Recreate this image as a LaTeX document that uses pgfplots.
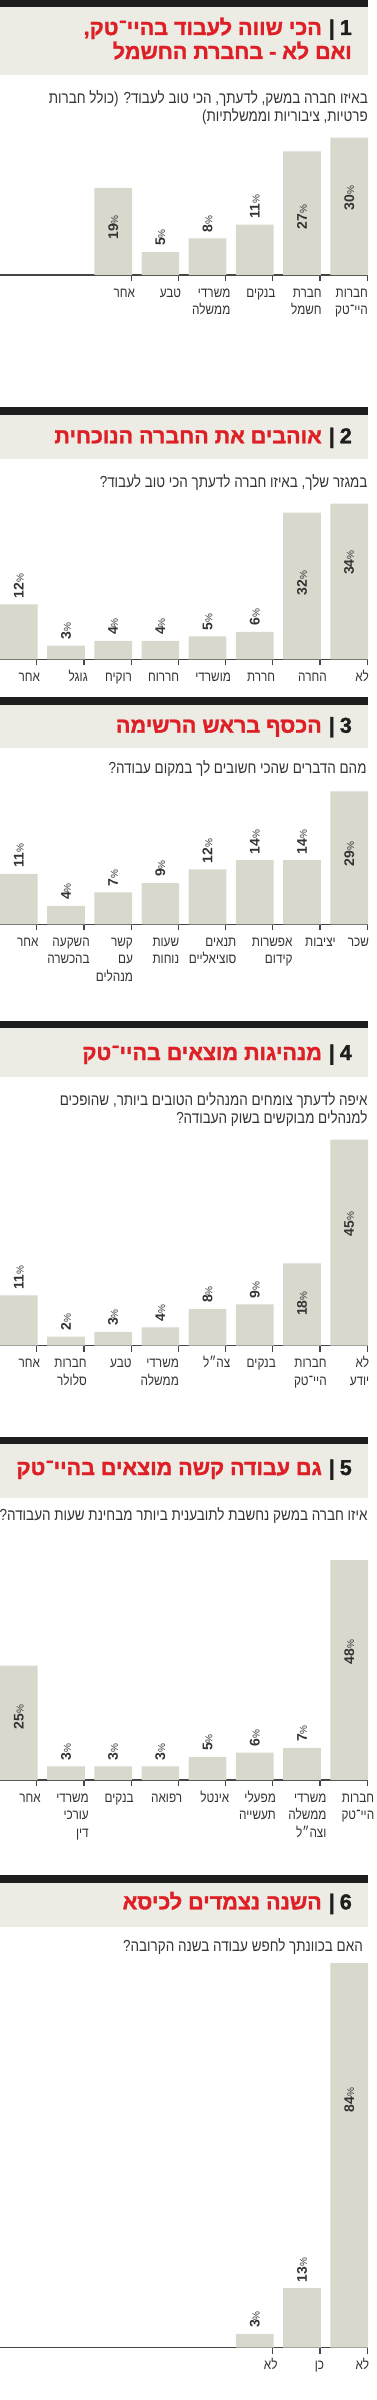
\documentclass[border=0pt]{standalone}
\usepackage{fontspec}
\usepackage{pgfplots}
\pgfplotsset{compat=1.18}
\TeXXeTstate=1
\newfontfamily\hebfont[Script=Hebrew,FakeStretch=0.84]{Liberation Sans}
\newfontfamily\titfont[Script=Hebrew,BoldFeatures={FakeBold=1.5}]{Liberation Sans}
\newfontfamily\numfont{Liberation Sans}
\definecolor{barc}{RGB}{216,216,205}
\definecolor{boxc}{RGB}{236,236,229}
\definecolor{titred}{RGB}{222,32,38}
\definecolor{blk}{RGB}{30,30,30}
\definecolor{axc}{RGB}{70,70,70}
\definecolor{txt}{RGB}{51,51,51}
\newcommand{\labfont}{\hebfont\fontsize{14}{17.5}\selectfont}
\newcommand{\subfont}{\hebfont\fontsize{16}{18.5}\selectfont}
\newcommand{\tfont}{\titfont\bfseries\fontsize{21.5}{23}\selectfont}
\newcommand{\header}[3]{%
  \fill[blk] (0pt,-#1pt) rectangle (368pt,-#2pt);
  \fill[boxc] (0pt,-#2pt) rectangle (368pt,-#3pt);}
\newcommand{\ttlnum}[2]{%
  \node[anchor=base east, inner sep=0pt, text=blk, font=\tfont] at (352pt,-#1pt) {#2};
  \node[anchor=base east, inner sep=0pt, text=blk, font=\tfont] at (335pt,-#1pt) {|};}
\newcommand{\ttl}[3]{\node[anchor=base east, inner sep=0pt, text=titred, font=\tfont] at (#1pt,-#2pt) {#3};}
\newcommand{\sub}[3]{\node[anchor=base east, inner sep=0pt, text=txt] at (#1pt,-#2pt) {\subfont #3};}
\newcommand{\pv}[1]{{\numfont\bfseries\fontsize{14}{14}\selectfont #1}{\numfont\fontsize{10}{10}\selectfont\%}}
\newcommand{\vin}[3]{\node[rotate=90, anchor=center, inner sep=0pt, text=txt] at (axis cs:#1,#2) {\pv{#3}};}
\newcommand{\vab}[2]{\node[rotate=90, anchor=west, inner sep=0pt, text=txt] at (axis cs:#1,{#2+1.3}) {\pv{#2}};}
\newcommand{\tl}[4]{\node[anchor=base east, align=right, inner sep=0pt, text=txt, font=\labfont, xshift=#2pt, yshift={-22pt-(#3-1)*17.5pt}] at (axis cs:{#1+0.38},0) {#4};}
\pgfplotsset{
  panel/.style={
    x=47.2pt, y=4.58pt,
    xmin=-0.398, xmax=7.398, ymin=0,
    axis x line*=bottom, axis y line=none,
    axis line style={draw=axc, line width=1.2pt},
    xtick={0.38,1.38,2.38,3.38,4.38,5.38,6.38,7.38},
    xticklabel=\empty,
    major tick length=12pt,
    tick align=center,
    xtick style={draw=axc, line width=1.2pt},
    clip=false,
    anchor=south west,
  },
  bars/.style={ybar, bar width=37.7pt, fill=barc, draw=none},
}
\begin{document}
\begin{tikzpicture}
\fill[white] (0pt,0pt) rectangle (376pt,-2400pt);
% ---------------- Panel 1
\header{0}{7.3}{75}
\ttlnum{35}{1}
\ttl{322}{35}{\beginR הכי שווה לעבוד בהיי־טק,\endR}
\ttl{352}{59}{\beginR ואם לא - בחברת החשמל\endR}
\sub{368}{104}{\beginR באיזו חברה במשק, לדעתך, הכי טוב לעבוד? (כולל חברות\endR}
\sub{368}{122}{\beginR פרטיות, ציבוריות וממשלתיות)\endR}
\begin{axis}[panel, at={(0pt,-275pt)}, ymax=35, xtick={2.38,3.38,4.38,5.38,6.38,7.38}]
\addplot[bars] coordinates {(2,19) (3,5) (4,8) (5,11) (6,27) (7,30)};
\vin{2}{10.4}{19}
\vab{3}{5}
\vab{4}{8}
\vab{5}{11}
\vin{6}{12.7}{27}
\vin{7}{16.8}{30}
\tl{2}{4}{1}{\beginR אחר\endR}
\tl{3}{3}{1}{\beginR טבע\endR}
\tl{4}{5}{2}{\beginR משרדי\endR\\\beginR ממשלה\endR}
\tl{5}{3}{1}{\beginR בנקים\endR}
\tl{6}{2}{2}{\beginR חברת\endR\\\beginR חשמל\endR}
\tl{7}{1}{2}{\beginR חברות\endR\\\beginR היי־טק\endR}
\end{axis}
% ---------------- Panel 2
\header{407.3}{415}{458.7}
\ttlnum{443.3}{2}
\ttl{322}{443.3}{\beginR אוהבים את החברה הנוכחית\endR}
\sub{367.7}{487.3}{\beginR במגזר שלך, באיזו חברה לדעתך הכי טוב לעבוד?\endR}
\begin{axis}[panel, at={(0pt,-659.3pt)}, ymax=38]
\addplot[bars] coordinates {(0,12) (1,3) (2,4) (3,4) (4,5) (5,6) (6,32) (7,34)};
\vab{0}{12}
\vab{1}{3}
\vab{2}{4}
\vab{3}{4}
\vab{4}{5}
\vab{5}{6}
\vin{6}{16.7}{32}
\vin{7}{21.1}{34}
\tl{0}{3.6}{1}{\beginR אחר\endR}
\tl{1}{4}{1}{\beginR גוגל\endR}
\tl{2}{1}{1}{\beginR רוקיח\endR}
\tl{3}{1}{1}{\beginR חררוח\endR}
\tl{4}{5.6}{1}{\beginR מושרדי\endR}
\tl{5}{2.7}{1}{\beginR חררת\endR}
\tl{6}{7}{1}{\beginR החרה\endR}
\tl{7}{2}{1}{\beginR לא\endR}
\end{axis}
% ---------------- Panel 3
\header{697.3}{705}{748.3}
\ttlnum{732.7}{3}
\ttl{322}{732.7}{\beginR הכסף בראש הרשימה\endR}
\sub{366.7}{773.3}{\beginR מהם הדברים שהכי חשובים לך במקום עבודה?\endR}
\begin{axis}[panel, at={(0pt,-924.3pt)}, ymax=33]
\addplot[bars] coordinates {(0,11) (1,4) (2,7) (3,9) (4,12) (5,14) (6,14) (7,29)};
\vab{0}{11}
\vab{1}{4}
\vab{2}{7}
\vab{3}{9}
\vab{4}{12}
\vab{5}{14}
\vab{6}{14}
\vin{7}{15.3}{29}
\tl{0}{2}{1}{\beginR אחר\endR}
\tl{1}{6}{2}{\beginR השקעה\endR\\\beginR בהכשרה\endR}
\tl{2}{2}{3}{\beginR קשר\endR\\\beginR עם\endR\\\beginR מנהלים\endR}
\tl{3}{1}{2}{\beginR שעות\endR\\\beginR נוחות\endR}
\tl{4}{11}{2}{\beginR תנאים\endR\\\beginR סוציאליים\endR}
\tl{5}{20}{2}{\beginR אפשרות\endR\\\beginR קידום\endR}
\tl{6}{16}{1}{\beginR יציבות\endR}
\tl{7}{2}{1}{\beginR שכר\endR}
\end{axis}
% ---------------- Panel 4
\header{1021}{1028.3}{1076.7}
\ttlnum{1060}{4}
\ttl{322}{1060}{\beginR מנהיגות מוצאים בהיי־טק\endR}
\sub{367.7}{1105}{\beginR איפה לדעתך צומחים המנהלים הטובים ביותר, שהופכים\endR}
\sub{367.7}{1123.3}{\beginR למנהלים מבוקשים בשוק העבודה?\endR}
\begin{axis}[panel, at={(0pt,-1345.7pt)}, ymax=49]
\addplot[bars] coordinates {(0,11) (1,2) (2,3) (3,4) (4,8) (5,9) (6,18) (7,45)};
\vab{0}{11}
\vab{1}{2}
\vab{2}{3}
\vab{3}{4}
\vab{4}{8}
\vab{5}{9}
\vin{6}{9.2}{18}
\vin{7}{26.6}{45}
\tl{0}{3.6}{1}{\beginR אחר\endR}
\tl{1}{3}{2}{\beginR חברות\endR\\\beginR סלולר\endR}
\tl{2}{0.6}{1}{\beginR טבע\endR}
\tl{3}{0.7}{2}{\beginR משרדי\endR\\\beginR ממשלה\endR}
\tl{4}{5}{1}{\beginR צה״ל\endR}
\tl{5}{3.3}{1}{\beginR בנקים\endR}
\tl{6}{7}{2}{\beginR חברות\endR\\\beginR היי־טק\endR}
\tl{7}{2.3}{2}{\beginR לא\endR\\\beginR יודע\endR}
\end{axis}
% ---------------- Panel 5
\header{1436.7}{1444}{1498.3}
\ttlnum{1475}{5}
\ttl{322}{1475}{\beginR גם עבודה קשה מוצאים בהיי־טק\endR}
\sub{367.7}{1520}{\beginR איזו חברה במשק נחשבת לתובענית ביותר מבחינת שעות העבודה?\endR}
\begin{axis}[panel, at={(0pt,-1780pt)}, ymax=52]
\addplot[bars] coordinates {(0,25) (1,3) (2,3) (3,3) (4,5) (5,6) (6,7) (7,48)};
\vin{0}{13.8}{25}
\vab{1}{3}
\vab{2}{3}
\vab{3}{3}
\vab{4}{5}
\vab{5}{6}
\vab{6}{7}
\vin{7}{27.9}{48}
\tl{0}{4.3}{1}{\beginR אחר\endR}
\tl{1}{5}{3}{\beginR משרדי\endR\\\beginR עורכי\endR\\\beginR דין\endR}
\tl{2}{2.7}{1}{\beginR בנקים\endR}
\tl{3}{4}{1}{\beginR רפואה\endR}
\tl{4}{4}{1}{\beginR אינטל\endR}
\tl{5}{3.3}{2}{\beginR מפעלי\endR\\\beginR תעשייה\endR}
\tl{6}{6.7}{3}{\beginR משרדי\endR\\\beginR ממשלה\endR\\\beginR וצה״ל\endR}
\tl{7}{7.3}{2}{\beginR חברות\endR\\\beginR היי־טק\endR}
\end{axis}
% ---------------- Panel 6
\header{1875}{1882.7}{1926.7}
\ttlnum{1909.3}{6}
\ttl{322}{1909.3}{\beginR השנה נצמדים לכיסא\endR}
\sub{363}{1951.7}{\beginR האם בכוונתך לחפש עבודה בשנה הקרובה?\endR}
\begin{axis}[panel, at={(0pt,-2347.7pt)}, ymax=88, xtick={5.38,6.38,7.38}]
\addplot[bars] coordinates {(5,3) (6,13) (7,84)};
\vab{5}{3}
\vab{6}{13}
\vin{7}{54.1}{84}
\tl{5}{5}{1}{\beginR לא\endR}
\tl{6}{4.3}{1}{\beginR כן\endR}
\tl{7}{2.3}{1}{\beginR לא\endR}
\end{axis}
\pgfresetboundingbox
\path[use as bounding box] (0pt,0pt) rectangle (376pt,-2400pt);
\end{tikzpicture}
\end{document}
